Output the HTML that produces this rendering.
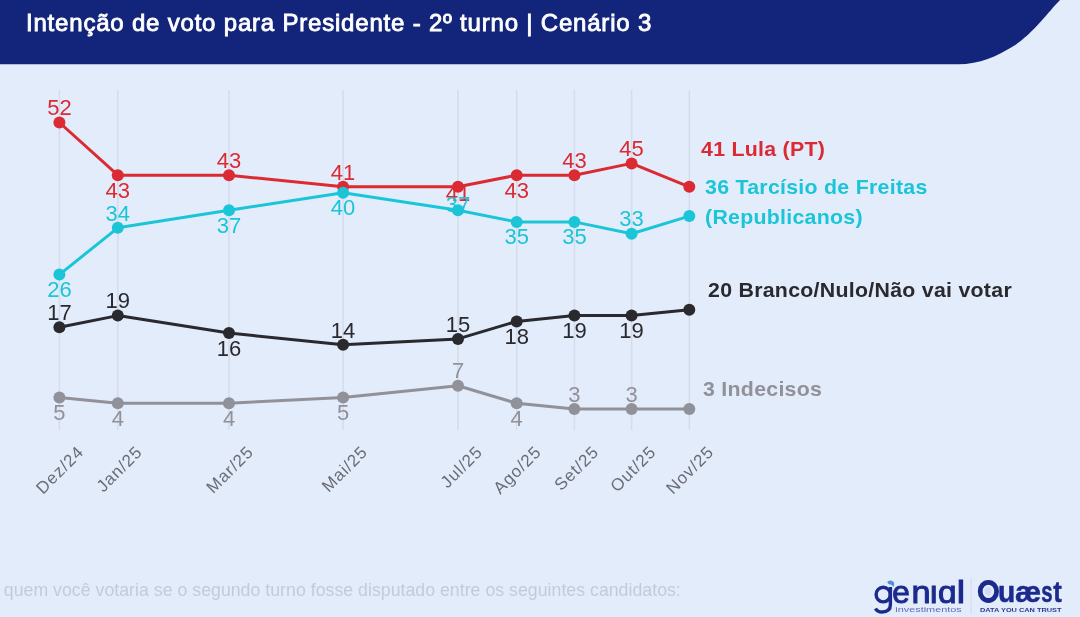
<!DOCTYPE html>
<html><head><meta charset="utf-8"><style>
html,body{margin:0;padding:0;width:1080px;height:617px;overflow:hidden;background:#E3ECFB;}
svg{display:block;font-family:"Liberation Sans",sans-serif;filter:blur(0.6px);}
</style></head><body>
<svg width="1080" height="617" viewBox="0 0 1080 617">
<rect width="1080" height="617" fill="#E3ECFB"/>
<path d="M0,0 H1060 C1049,11 1032,35 1012,47 C997,56 980,64.3 958,64.3 H0 Z" fill="#13257A"/>
<text x="26" y="31" fill="#FFFFFF" stroke="#FFFFFF" stroke-width="0.85" font-size="24" letter-spacing="0.8">Intenção de voto para Presidente - 2º turno | Cenário 3</text>
<line x1="59.4" y1="90" x2="59.4" y2="430" stroke="#D5DCEA" stroke-width="1.5"/>
<line x1="117.8" y1="90" x2="117.8" y2="430" stroke="#D5DCEA" stroke-width="1.5"/>
<line x1="229.0" y1="90" x2="229.0" y2="430" stroke="#D5DCEA" stroke-width="1.5"/>
<line x1="343.1" y1="90" x2="343.1" y2="430" stroke="#D5DCEA" stroke-width="1.5"/>
<line x1="458.0" y1="90" x2="458.0" y2="430" stroke="#D5DCEA" stroke-width="1.5"/>
<line x1="516.7" y1="90" x2="516.7" y2="430" stroke="#D5DCEA" stroke-width="1.5"/>
<line x1="574.4" y1="90" x2="574.4" y2="430" stroke="#D5DCEA" stroke-width="1.5"/>
<line x1="631.6" y1="90" x2="631.6" y2="430" stroke="#D5DCEA" stroke-width="1.5"/>
<line x1="689.3" y1="90" x2="689.3" y2="430" stroke="#D5DCEA" stroke-width="1.5"/>
<text x="458.0" y="200.5" fill="#DC2A33" font-size="22" text-anchor="middle">41</text>
<text x="458.0" y="211.7" fill="#1BC5D8" font-size="22" text-anchor="middle">37</text>
<polyline points="59.4,122.5 117.8,175.2 229.0,175.2 343.1,186.8 458.0,186.8 516.7,175.2 574.4,175.2 631.6,163.4 689.3,186.8" fill="none" stroke="#DC2A33" stroke-width="3.0" stroke-linejoin="round"/>
<circle cx="59.4" cy="122.5" r="6" fill="#DC2A33"/>
<circle cx="117.8" cy="175.2" r="6" fill="#DC2A33"/>
<circle cx="229.0" cy="175.2" r="6" fill="#DC2A33"/>
<circle cx="343.1" cy="186.8" r="6" fill="#DC2A33"/>
<circle cx="458.0" cy="186.8" r="6" fill="#DC2A33"/>
<circle cx="516.7" cy="175.2" r="6" fill="#DC2A33"/>
<circle cx="574.4" cy="175.2" r="6" fill="#DC2A33"/>
<circle cx="631.6" cy="163.4" r="6" fill="#DC2A33"/>
<circle cx="689.3" cy="186.8" r="6" fill="#DC2A33"/>
<polyline points="59.4,274.6 117.8,227.8 229.0,210.2 343.1,192.7 458.0,210.2 516.7,221.9 574.4,221.9 631.6,233.7 689.3,216.1" fill="none" stroke="#1BC5D8" stroke-width="3.0" stroke-linejoin="round"/>
<circle cx="59.4" cy="274.6" r="6" fill="#1BC5D8"/>
<circle cx="117.8" cy="227.8" r="6" fill="#1BC5D8"/>
<circle cx="229.0" cy="210.2" r="6" fill="#1BC5D8"/>
<circle cx="343.1" cy="192.7" r="6" fill="#1BC5D8"/>
<circle cx="458.0" cy="210.2" r="6" fill="#1BC5D8"/>
<circle cx="516.7" cy="221.9" r="6" fill="#1BC5D8"/>
<circle cx="574.4" cy="221.9" r="6" fill="#1BC5D8"/>
<circle cx="631.6" cy="233.7" r="6" fill="#1BC5D8"/>
<circle cx="689.3" cy="216.1" r="6" fill="#1BC5D8"/>
<polyline points="59.4,327.2 117.8,315.6 229.0,333.1 343.1,344.8 458.0,338.9 516.7,321.4 574.4,315.6 631.6,315.6 689.3,309.7" fill="none" stroke="#29292E" stroke-width="3.0" stroke-linejoin="round"/>
<circle cx="59.4" cy="327.2" r="6" fill="#29292E"/>
<circle cx="117.8" cy="315.6" r="6" fill="#29292E"/>
<circle cx="229.0" cy="333.1" r="6" fill="#29292E"/>
<circle cx="343.1" cy="344.8" r="6" fill="#29292E"/>
<circle cx="458.0" cy="338.9" r="6" fill="#29292E"/>
<circle cx="516.7" cy="321.4" r="6" fill="#29292E"/>
<circle cx="574.4" cy="315.6" r="6" fill="#29292E"/>
<circle cx="631.6" cy="315.6" r="6" fill="#29292E"/>
<circle cx="689.3" cy="309.7" r="6" fill="#29292E"/>
<polyline points="59.4,397.4 117.8,403.3 229.0,403.3 343.1,397.4 458.0,385.8 516.7,403.3 574.4,409.1 631.6,409.1 689.3,409.1" fill="none" stroke="#919199" stroke-width="3.0" stroke-linejoin="round"/>
<circle cx="59.4" cy="397.4" r="6" fill="#919199"/>
<circle cx="117.8" cy="403.3" r="6" fill="#919199"/>
<circle cx="229.0" cy="403.3" r="6" fill="#919199"/>
<circle cx="343.1" cy="397.4" r="6" fill="#919199"/>
<circle cx="458.0" cy="385.8" r="6" fill="#919199"/>
<circle cx="516.7" cy="403.3" r="6" fill="#919199"/>
<circle cx="574.4" cy="409.1" r="6" fill="#919199"/>
<circle cx="631.6" cy="409.1" r="6" fill="#919199"/>
<circle cx="689.3" cy="409.1" r="6" fill="#919199"/>
<text transform="translate(59.4,115.2) scale(1.0,1)" fill="#DC2A33" font-size="22" text-anchor="middle">52</text>
<text transform="translate(117.8,197.7) scale(1.0,1)" fill="#DC2A33" font-size="22" text-anchor="middle">43</text>
<text transform="translate(229.0,167.8) scale(1.0,1)" fill="#DC2A33" font-size="22" text-anchor="middle">43</text>
<text transform="translate(343.1,179.5) scale(1.0,1)" fill="#DC2A33" font-size="22" text-anchor="middle">41</text>
<text transform="translate(516.7,197.7) scale(1.0,1)" fill="#DC2A33" font-size="22" text-anchor="middle">43</text>
<text transform="translate(574.4,167.8) scale(1.0,1)" fill="#DC2A33" font-size="22" text-anchor="middle">43</text>
<text transform="translate(631.6,156.1) scale(1.0,1)" fill="#DC2A33" font-size="22" text-anchor="middle">45</text>
<text transform="translate(59.4,297.1) scale(1.0,1)" fill="#1BC5D8" font-size="22" text-anchor="middle">26</text>
<text transform="translate(117.8,220.5) scale(1.0,1)" fill="#1BC5D8" font-size="22" text-anchor="middle">34</text>
<text transform="translate(229.0,232.8) scale(1.0,1)" fill="#1BC5D8" font-size="22" text-anchor="middle">37</text>
<text transform="translate(343.1,215.2) scale(1.0,1)" fill="#1BC5D8" font-size="22" text-anchor="middle">40</text>
<text transform="translate(516.7,244.4) scale(1.0,1)" fill="#1BC5D8" font-size="22" text-anchor="middle">35</text>
<text transform="translate(574.4,244.4) scale(1.0,1)" fill="#1BC5D8" font-size="22" text-anchor="middle">35</text>
<text transform="translate(631.6,226.3) scale(1.0,1)" fill="#1BC5D8" font-size="22" text-anchor="middle">33</text>
<text transform="translate(59.4,319.9) scale(1.0,1)" fill="#29292E" font-size="22" text-anchor="middle">17</text>
<text transform="translate(117.8,308.2) scale(1.0,1)" fill="#29292E" font-size="22" text-anchor="middle">19</text>
<text transform="translate(229.0,355.6) scale(1.0,1)" fill="#29292E" font-size="22" text-anchor="middle">16</text>
<text transform="translate(343.1,337.5) scale(1.0,1)" fill="#29292E" font-size="22" text-anchor="middle">14</text>
<text transform="translate(458.0,331.6) scale(1.0,1)" fill="#29292E" font-size="22" text-anchor="middle">15</text>
<text transform="translate(516.7,343.9) scale(1.0,1)" fill="#29292E" font-size="22" text-anchor="middle">18</text>
<text transform="translate(574.4,338.1) scale(1.0,1)" fill="#29292E" font-size="22" text-anchor="middle">19</text>
<text transform="translate(631.6,338.1) scale(1.0,1)" fill="#29292E" font-size="22" text-anchor="middle">19</text>
<text transform="translate(59.4,419.9) scale(1.0,1)" fill="#919199" font-size="22" text-anchor="middle">5</text>
<text transform="translate(117.8,425.8) scale(1.0,1)" fill="#919199" font-size="22" text-anchor="middle">4</text>
<text transform="translate(229.0,425.8) scale(1.0,1)" fill="#919199" font-size="22" text-anchor="middle">4</text>
<text transform="translate(343.1,419.9) scale(1.0,1)" fill="#919199" font-size="22" text-anchor="middle">5</text>
<text transform="translate(458.0,378.4) scale(1.0,1)" fill="#919199" font-size="22" text-anchor="middle">7</text>
<text transform="translate(516.7,425.8) scale(1.0,1)" fill="#919199" font-size="22" text-anchor="middle">4</text>
<text transform="translate(574.4,401.8) scale(1.0,1)" fill="#919199" font-size="22" text-anchor="middle">3</text>
<text transform="translate(631.6,401.8) scale(1.0,1)" fill="#919199" font-size="22" text-anchor="middle">3</text>
<text transform="translate(84.9,453) scale(1.0,1) rotate(-45)" fill="#6C6C74" font-size="17" letter-spacing="0.9" text-anchor="end">Dez/24</text>
<text transform="translate(143.3,453) scale(1.0,1) rotate(-45)" fill="#6C6C74" font-size="17" letter-spacing="0.9" text-anchor="end">Jan/25</text>
<text transform="translate(254.5,453) scale(1.0,1) rotate(-45)" fill="#6C6C74" font-size="17" letter-spacing="0.9" text-anchor="end">Mar/25</text>
<text transform="translate(368.6,453) scale(1.0,1) rotate(-45)" fill="#6C6C74" font-size="17" letter-spacing="0.9" text-anchor="end">Mai/25</text>
<text transform="translate(483.5,453) scale(1.0,1) rotate(-45)" fill="#6C6C74" font-size="17" letter-spacing="0.9" text-anchor="end">Jul/25</text>
<text transform="translate(542.2,453) scale(1.0,1) rotate(-45)" fill="#6C6C74" font-size="17" letter-spacing="0.9" text-anchor="end">Ago/25</text>
<text transform="translate(599.9,453) scale(1.0,1) rotate(-45)" fill="#6C6C74" font-size="17" letter-spacing="0.9" text-anchor="end">Set/25</text>
<text transform="translate(657.1,453) scale(1.0,1) rotate(-45)" fill="#6C6C74" font-size="17" letter-spacing="0.9" text-anchor="end">Out/25</text>
<text transform="translate(714.8,453) scale(1.0,1) rotate(-45)" fill="#6C6C74" font-size="17" letter-spacing="0.9" text-anchor="end">Nov/25</text>
<text transform="translate(701,155.9) scale(1.04,1)" fill="#DC2A33" font-size="20.5" font-weight="bold" letter-spacing="0.27">41 Lula (PT)</text>
<text transform="translate(705,193.7) scale(1.04,1)" fill="#1BC5D8" font-size="20.5" font-weight="bold" letter-spacing="0.27">36 Tarcísio de Freitas</text>
<text transform="translate(705,223.5) scale(1.04,1)" fill="#1BC5D8" font-size="20.5" font-weight="bold" letter-spacing="0.27">(Republicanos)</text>
<text transform="translate(708,296.8) scale(1.04,1)" fill="#29292E" font-size="20.5" font-weight="bold" letter-spacing="0.27">20 Branco/Nulo/Não vai votar</text>
<text transform="translate(703,396) scale(1.04,1)" fill="#919199" font-size="20.5" font-weight="bold" letter-spacing="0.27">3 Indecisos</text>
<text x="3.8" y="595.5" fill="#C3CADD" font-size="17.7" letter-spacing="0.03">quem você votaria se o segundo turno fosse disputado entre os seguintes candidatos:</text>

<g>
<ellipse cx="883.2" cy="594.6" rx="7.1" ry="7.3" fill="none" stroke="#1B2A8C" stroke-width="3.4"/>
<path d="M890.4,587 V604.5 C890.4,610.5 886,612 882,612 C878.5,612 876.5,610.5 875.5,608.5" fill="none" stroke="#1B2A8C" stroke-width="3.4"/>
<path d="M887.2,582.3 Q887.8,580.2 890.8,580.4 Q894.2,580.9 894.2,584.2 L893.4,587.2 Q892.3,584.4 888.6,583.9 Z" fill="#4F8FE3"/>
<text transform="translate(892.28,602.8) scale(0.984,1)" font-size="32" fill="#1B2A8C" stroke="#1B2A8C" stroke-width="1.0">e</text>
<text transform="translate(911.53,602.8) scale(1.074,1)" font-size="32" fill="#1B2A8C" stroke="#1B2A8C" stroke-width="1.0">n</text>
<text transform="translate(929.06,602.8) scale(1.065,1)" font-size="32" fill="#1B2A8C" stroke="#1B2A8C" stroke-width="1.0">ı</text>
<text transform="translate(938.10,602.8) scale(1.042,1)" font-size="32" fill="#1B2A8C" stroke="#1B2A8C" stroke-width="1.0">ɑ</text>
<text transform="translate(956.79,602.8) scale(1.172,1)" font-size="32" fill="#1B2A8C" stroke="#1B2A8C" stroke-width="1.0">l</text>
<text transform="translate(998.05,602.0) scale(0.939,1)" font-size="30" font-weight="bold" fill="#1B2A8C" stroke="#1B2A8C" stroke-width="0.5">u</text>
<text transform="translate(1015.06,602.0) scale(0.980,1)" font-size="30" font-weight="bold" fill="#1B2A8C" stroke="#1B2A8C" stroke-width="0.5">æ</text>
<text transform="translate(1041.29,602.0) scale(0.681,1)" font-size="30" font-weight="bold" fill="#1B2A8C" stroke="#1B2A8C" stroke-width="0.5">s</text>
<text transform="translate(1053.29,602.0) scale(0.852,1)" font-size="30" font-weight="bold" fill="#1B2A8C" stroke="#1B2A8C" stroke-width="0.5">t</text>
<text x="895.3" y="611.9" font-size="6.8" fill="#646BBE" textLength="66.5" lengthAdjust="spacingAndGlyphs">investimentos</text>
<line x1="971" y1="578" x2="971" y2="614" stroke="#D2D9EC" stroke-width="1"/>
<ellipse cx="988.4" cy="591.4" rx="8.2" ry="9.1" fill="none" stroke="#1B2A8C" stroke-width="4.8"/>
<text x="980" y="612.4" font-size="5.2" font-weight="bold" fill="#2B3794" textLength="81.5" lengthAdjust="spacingAndGlyphs">DATA YOU CAN TRUST</text>
<path d="M984.5,589 Q988,585 991.5,589 Q992,594 988.5,596 Q985,595 984.5,591 Z" fill="#C8D0EC" opacity="0.6"/>
</g>

</svg>
</body></html>
